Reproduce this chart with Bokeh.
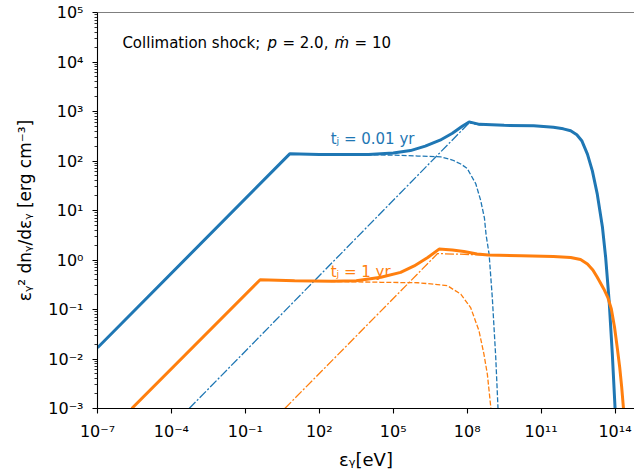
from bokeh.plotting import figure
from bokeh.models import Label, Span, FixedTicker, CustomJSTickFormatter, Range1d
from bokeh.embed import file_html
from bokeh.resources import INLINE

# ---- data (log10 of energy in eV, log10 of eps^2 dn/deps in erg cm^-3) ----
# t_j = 0.01 yr
blue_total_lx = [-7.0, 0.80, 2.0, 4.0, 5.0, 5.7, 6.3, 6.9, 7.4, 7.8, 8.08, 8.5, 9.5, 10.7, 11.5, 11.9, 12.2, 12.45,
                 12.65, 12.88, 13.08, 13.28, 13.49, 13.62, 13.76, 13.89, 14.0, 14.05]
blue_total_ly = [-1.774, 2.145, 2.13, 2.13, 2.16, 2.21, 2.30, 2.42, 2.56, 2.70, 2.79, 2.74, 2.72, 2.71, 2.68, 2.65, 2.61, 2.53,
                 2.41, 2.14, 1.80, 1.33, 0.66, 0.05, -0.82, -1.90, -2.98, -3.50]
blue_sync_lx = [-7.0, 0.80, 3.0, 5.0, 6.0, 6.93, 7.4, 7.74, 8.0, 8.35, 8.55, 8.7, 8.77, 8.89, 9.02, 9.16, 9.25, 9.28]
blue_sync_ly = [-1.774, 2.145, 2.13, 2.12, 2.10, 2.085, 2.02, 1.94, 1.85, 1.54, 1.20, 0.85, 0.50, 0.12, -0.76, -1.97, -2.98, -3.30]
blue_ic_lx = [-3.28, 8.08, 8.5, 9.5, 10.7, 11.5, 11.9, 12.2, 12.45, 12.65, 12.88, 13.08, 13.28, 13.49, 13.62, 13.76,
              13.89, 14.0, 14.05]
blue_ic_ly = [-3.00, 2.77, 2.73, 2.72, 2.71, 2.68, 2.65, 2.61, 2.53, 2.41, 2.14, 1.80, 1.33, 0.66, 0.05, -0.82,
              -1.90, -2.98, -3.50]

# t_j = 1 yr
orange_total_lx = [-5.61, -0.40, 1.0, 2.5, 3.5, 4.5, 5.3, 5.85, 6.4, 6.86, 7.4, 7.87, 8.4, 8.85, 10.2, 11.5, 12.2,
                   12.6, 12.88, 13.1, 13.28, 13.55, 13.71, 13.85, 13.98, 14.09, 14.19, 14.27, 14.34, 14.37]
orange_total_ly = [-3.00, -0.40, -0.42, -0.43, -0.42, -0.35, -0.25, -0.12, 0.05, 0.22, 0.20, 0.17, 0.12, 0.10, 0.085, 0.07, 0.05,
                   0.01, -0.08, -0.20, -0.35, -0.59, -0.76, -0.99, -1.36, -1.77, -2.17, -2.57, -2.98, -3.30]
orange_sync_lx = [-5.61, -0.40, 2.0, 4.5, 6.0, 6.7, 7.2, 7.74, 8.14, 8.48, 8.68, 8.82, 8.96, 9.0]
orange_sync_ly = [-3.00, -0.40, -0.43, -0.45, -0.46, -0.49, -0.52, -0.69, -0.96, -1.43, -1.90, -2.31, -2.98, -3.30]
orange_ic_lx = [0.60, 6.80, 7.5, 8.8, 10.2, 11.5, 12.2, 12.6, 12.88, 13.1, 13.28, 13.55, 13.71, 13.85, 13.98, 14.09,
                14.19, 14.27, 14.34, 14.37]
orange_ic_ly = [-3.00, 0.13, 0.12, 0.10, 0.085, 0.07, 0.05, 0.01, -0.08, -0.20, -0.35, -0.59, -0.76, -0.99, -1.36, -1.77,
                -2.17, -2.57, -2.98, -3.30]

x_tick_exponents = [-7, -4, -1, 2, 5, 8, 11, 14]
y_tick_exponents = [-3, -2, -1, 0, 1, 2, 3, 4, 5]

BLUE = "#1f77b4"
ORANGE = "#ff7f0e"
FONT = "DejaVu Sans"


def pw(seq):
    return [10.0 ** v for v in seq]


p = figure(width=634, height=474, x_axis_type="log", y_axis_type="log",
           x_range=Range1d(1e-7, 10 ** 14.79), y_range=Range1d(1e-3, 1e5),
           output_backend="svg", toolbar_location=None,
           min_border_left=97, min_border_right=0, min_border_top=12, min_border_bottom=66)
p.background_fill_color = "white"
p.border_fill_color = "white"
p.outline_line_color = None
p.grid.visible = False

# components (drawn first, under the totals)
p.line(pw(blue_sync_lx), pw(blue_sync_ly), line_color=BLUE, line_width=1.3, line_dash="5 2")
p.line(pw(blue_ic_lx), pw(blue_ic_ly), line_color=BLUE, line_width=1.3, line_dash="9 2 2 2")
p.line(pw(orange_sync_lx), pw(orange_sync_ly), line_color=ORANGE, line_width=1.3, line_dash="5 2")
p.line(pw(orange_ic_lx), pw(orange_ic_ly), line_color=ORANGE, line_width=1.3, line_dash="9 2 2 2")
# solid totals
p.line(pw(blue_total_lx), pw(blue_total_ly), line_color=BLUE, line_width=3.0)
p.line(pw(orange_total_lx), pw(orange_total_ly), line_color=ORANGE, line_width=3.0)

# top spine
p.add_layout(Span(location=1e5, dimension="width", line_color="black", line_width=1.1))

fmt = CustomJSTickFormatter(code="""
const e = Math.round(Math.log10(tick));
const m = {"-":"\u207b","0":"\u2070","1":"\u00b9","2":"\u00b2","3":"\u00b3","4":"\u2074","5":"\u2075","6":"\u2076","7":"\u2077","8":"\u2078","9":"\u2079"};
return "10" + String(e).split("").map(c => m[c]).join("");
""")

p.xaxis.ticker = FixedTicker(ticks=[10.0 ** k for k in x_tick_exponents], minor_ticks=[])
p.yaxis.ticker = FixedTicker(ticks=[10.0 ** k for k in y_tick_exponents],
                             minor_ticks=[m * 10.0 ** k for k in range(-3, 5) for m in range(2, 10)])
for ax in (p.xaxis[0], p.yaxis[0]):
    ax.formatter = fmt
    ax.axis_line_color = "black"
    ax.axis_line_width = 1.1
    ax.major_tick_line_width = 1.1
    ax.major_tick_in = 0
    ax.major_tick_out = 5
    ax.minor_tick_in = 0
    ax.minor_tick_out = 3
    ax.minor_tick_line_width = 0.8
    ax.major_label_text_font = FONT
    ax.major_label_text_font_size = "16px"
    ax.major_label_text_color = "black"
    ax.axis_label_text_font = FONT
    ax.axis_label_text_font_style = "normal"
    ax.axis_label_text_color = "black"

p.xaxis.axis_label = "\u03b5\u1d67[eV]"
p.yaxis.axis_label = "\u03b5\u1d67\u00b2 dn\u1d67/d\u03b5\u1d67 [erg cm\u207b\u00b3]"
p.xaxis.axis_label_text_font_size = "18px"
p.yaxis.axis_label_text_font_size = "17px"
p.xaxis.major_label_standoff = 8
p.xaxis.axis_label_standoff = 5
p.yaxis.major_label_standoff = 9
p.yaxis.axis_label_standoff = 10

# annotation: Collimation shock; p = 2.0,  m-dot = 10
for txt, lx, style in [("Collimation shock;", -5.99, "normal"), ("p", -0.10, "italic"),
                       ("= 2.0,", 0.505, "normal"), ("\u1e41", 2.62, "italic"), ("= 10", 3.43, "normal")]:
    p.add_layout(Label(x=10 ** lx, y=10 ** 4.39, text=txt, text_font=FONT, text_font_size="15px",
                       text_font_style=style, text_baseline="middle", text_align="left", text_color="black"))

p.add_layout(Label(x=10 ** 2.46, y=10 ** 2.45, text="t\u2c7c = 0.01 yr", text_font=FONT, text_font_size="15px",
                   text_baseline="middle", text_align="left", text_color=BLUE))
p.add_layout(Label(x=10 ** 2.46, y=10 ** -0.25, text="t\u2c7c = 1 yr", text_font=FONT, text_font_size="15px",
                   text_baseline="middle", text_align="left", text_color=ORANGE))

open("out.html", "w").write(file_html(p, INLINE))
